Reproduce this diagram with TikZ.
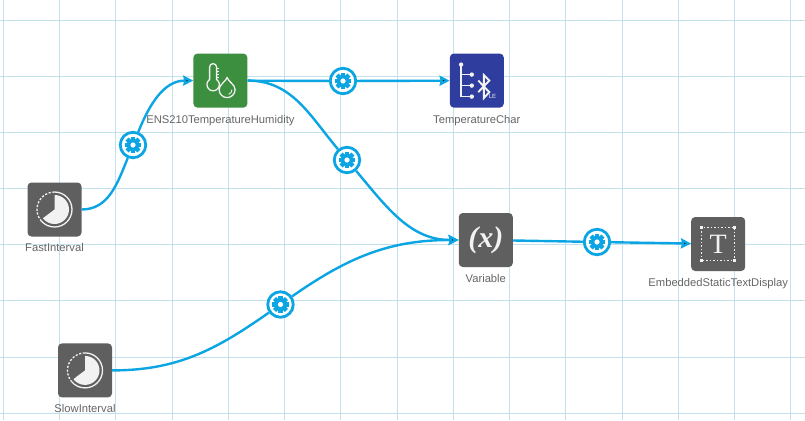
\documentclass[tikz,border=0pt]{standalone}
\usepackage{fontspec}
\setmainfont{Liberation Sans}
\newfontfamily\glyphserif{Liberation Serif}
\usepackage{xcolor}
\usetikzlibrary{arrows.meta}
\usetikzlibrary{positioning}
\definecolor{gridblue}{HTML}{C2E1ED}
\definecolor{linkblue}{HTML}{0BA5E3}
\definecolor{greyblock}{HTML}{5F5F5F}
\definecolor{greenblock}{HTML}{3C8F3F}
\definecolor{indigoblock}{HTML}{2F3E9E}
\definecolor{captiongrey}{HTML}{666666}
\definecolor{iconwhite}{HTML}{F2F2F2}
\tikzset{
  block/.style={draw=none,rounded corners=4pt,minimum size=54pt,inner sep=0pt},
  caption/.style={inner sep=0pt,text=captiongrey,text height=8pt,text depth=2.5pt,
    font=\fontsize{11.2}{13}\selectfont},
  cog/.style={circle,draw=linkblue,fill=white,line width=2.8pt,minimum size=25.5pt,inner sep=0pt},
  wire/.style={draw=linkblue,line width=2.4pt},
  wirehead/.style={wire,-{Stealth[length=10pt,width=10pt,inset=1pt]}},
  gridline/.style={draw=gridblue,line width=1.7pt},
  icon/.style={draw=iconwhite,line width=1.3pt},
  gearicon/.pic={
    \fill[linkblue] (0,0) circle (6.2);
    \foreach \a in {0,45,...,315} \fill[linkblue,rotate=\a] (-2.2,0) rectangle (2.2,8.4);
    \fill[white] (0,0) circle (2.6);
  },
  clockicon/.pic={
    \draw[icon] (0,17.5) arc[start angle=90,end angle=-140,radius=17.5];
    \draw[icon,dash pattern=on 2.2pt off 1.6pt] (0,17.5) arc[start angle=90,end angle=220,radius=17.5];
    \fill[iconwhite] (0,0) -- (0,14.5) arc[start angle=90,end angle=-143,radius=14.5] -- cycle;
  },
  thermoicon/.pic={
    \draw[icon] (-10.8,1.1) -- (-10.8,13.5) arc[start angle=180,end angle=0,radius=3.5]
      -- (-3.8,1.1) arc[start angle=55.6,end angle=-235.6,radius=6.2];
    \foreach \t in {12,9,6,3} \draw[icon,line width=.9pt] (-3.8,\t) -- (-1,\t);
    \draw[icon,fill=greenblock] (6.7,3) .. controls (8,-1) and (14.7,-4) .. (14.7,-9)
      arc[start angle=0,end angle=-180,radius=8] .. controls (-1.3,-4) and (5.4,-1) .. cycle;
    \draw[icon,line width=.9pt] (11.6,-9) arc[start angle=0,end angle=-70,radius=5];
  },
  bleicon/.pic={
    \draw[icon] (-15.7,16) -- (-15.7,-16);
    \foreach \t in {6,-5,-16} {
      \draw[icon] (-15.7,\t) -- (-5,\t);
      \fill[iconwhite] (-5,\t) circle (2.2);
    }
    \fill[iconwhite] (-15.7,16) circle (2.2);
    \draw[icon,line width=1.9pt] (1.5,0) -- (12.5,-11.5) -- (7,-17.5) -- (7,5.5) -- (12.5,0) -- (1.5,-11.5);
    \node[text=iconwhite,inner sep=0pt,font=\fontsize{6}{7}\selectfont] (bleletters) at (15.7,-15.7) {LE};
  },
  frameicon/.pic={
    \draw[iconwhite,line width=1.2pt,dash pattern=on 1.5pt off 2pt] (-16.5,-16.5) rectangle (16.5,16.5);
    \foreach \cx in {-16.5,16.5} \foreach \cy in {-16.5,16.5}
      \fill[iconwhite] (\cx-1.7,\cy-1.7) rectangle (\cx+1.7,\cy+1.7);
    \node[text=iconwhite,inner sep=0pt,font=\glyphserif\fontsize{28}{29}\selectfont] (frameletter) at (0,-0.5) {T};
  }
}

\begin{document}
\begin{tikzpicture}[x=1pt,y=1pt,node distance=7pt]
   \useasboundingbox (0,0) rectangle (805,-420);
   \fill[white] (0,0) rectangle (805,-420);
   \foreach \x in {3.5,59.5,115.5,172.5,228.5,284.5,340.5,397.5,453.5,509.5,565.5,622.5,678.5,734.5,790.5}
     \draw[gridline] (\x,0) -- (\x,-420);
   \foreach \y in {20.5,76.5,132.5,188.5,244.5,300.5,357.5,413.5}
     \draw[gridline] (0,-\y) -- (805,-\y);

   \node[block,fill=greyblock] (fast) at (54.5,-209.5) {};
   \node[block,fill=greenblock] (ens) [above right=74.5pt and 111.5pt of fast] {};
   \node[block,fill=indigoblock] (tempchar) [right=202pt of ens] {};
   \node[block,fill=greyblock,text=iconwhite,font=\glyphserif\bfseries\itshape\fontsize{30}{31}\selectfont] (variable) [below right=105pt and 211pt of ens] {(x)};
   \node[block,fill=greyblock] (display) [right=178pt of variable,yshift=-4pt] {};
   \node[block,fill=greyblock] (slow) [below=106.5pt of fast,xshift=30.5pt] {};

   \node[caption] (fastcap) [below=of fast] {FastInterval};
   \node[caption] (enscap) [below=of ens] {ENS210TemperatureHumidity};
   \node[caption] (tempcap) [below=of tempchar] {TemperatureChar};
   \node[caption] (varcap) [below=of variable] {Variable};
   \node[caption] (displaycap) [below=of display] {EmbeddedStaticTextDisplay};
   \node[caption] (slowcap) [below=of slow] {SlowInterval};

   \node[cog] (cogfast) at (133,-145) {};
   \node[cog] (cogtemp) at (343,-81) {};
   \node[cog] (cogens) at (347,-160) {};
   \node[cog] (cogslow) at (280.5,-304.5) {};
   \node[cog] (cogvar) at (597,-242) {};

   \path[wire]
    (fast) edge [out=0,in=248] (cogfast)
    (ens) edge (cogtemp)
    (ens) edge [out=0,in=130] (cogens)
    (slow) edge [out=0,in=215] (cogslow)
    (variable) edge (cogvar);
   \path[wirehead]
    (cogfast) edge [out=68,in=180] (ens)
    (cogtemp) edge (tempchar)
    (cogens) edge [out=-50,in=180] (variable)
    (cogslow) edge [out=35,in=180] (variable)
    (cogvar) edge (display);

   \foreach \c in {cogfast,cogtemp,cogens,cogslow,cogvar} \pic at (\c) {gearicon};
   \pic at (fast) {clockicon};
   \pic at (slow) {clockicon};
   \pic at (ens) {thermoicon};
   \pic at (tempchar) {bleicon};
   \pic at (display) {frameicon};
\end{tikzpicture}
\end{document}
